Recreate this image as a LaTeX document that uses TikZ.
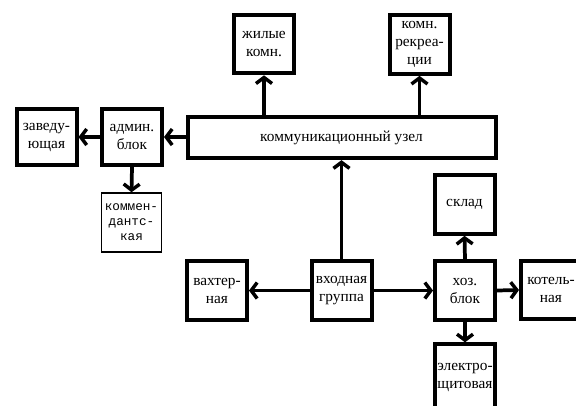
\documentclass[tikz,border=0pt]{standalone}
\usepackage{fontspec}
\setmainfont{Liberation Serif}
\newfontfamily\monofont{Liberation Mono}
\usetikzlibrary{arrows.meta}
\begin{document}
\begin{tikzpicture}[x=0.75pt,y=-0.75pt,
  blok/.style={draw, line width=3pt, fill=white, minimum width=45pt, minimum height=44pt,
    inner sep=0pt, align=center, font=\fontsize{11.5}{13.5}\selectfont},
  strelka/.style={line width=2.8pt, -{Straight Barb[length=4.5pt,width=12pt,line width=2.6pt]}}]
  \fill[white] (0,0) rectangle (576,405);
  \useasboundingbox (0,0) rectangle (576,405);
  \begin{scope}
    \clip (0,0) rectangle (576,405);
    \node[blok, minimum width=231pt, minimum height=31pt] (uzel) at (341.5,137.5) {коммуникационный узел};
    \node[blok] (zhil) at (264,44) {жилые\\комн.};
    \node[blok] (rekr) at (419.5,44.5) {комн.\\рекреа-\\ции};
    \node[blok, minimum height=42pt] (admin) at (132,137) {админ.\\блок};
    \node[blok, minimum height=42pt] (zav) at (46.5,137) {заведу-\\ющая};
    \node[blok, line width=1.4pt, font=\monofont\fontsize{9.5}{11.3}\selectfont] (komend) at (131.5,222.5) {коммен-\\дантс-\\кая};
    \node[blok] (vkhod) at (341.5,290.5) {входная\\группа};
    \node[blok] (vakht) at (217,290.5) {вахтер-\\ная};
    \node[blok] (hoz) at (465,290.5) {хоз.\\блок};
    \node[blok] (sklad) at (464.5,204.5) {склад};
    \node[blok] (kotel) at (551,290) {котель-\\ная};
    \node[blok, minimum height=49pt] (elektro) at (465,377) {электро-\\щитовая};
    \draw[strelka] (zhil |- uzel.north) -- (zhil.south);
    \draw[strelka] (rekr |- uzel.north) -- (rekr.south);
    \draw[strelka] (uzel.west |- admin) -- (admin.east);
    \draw[strelka] (admin.west) -- (zav.east);
    \draw[strelka] (admin.south) -- (komend.north);
    \draw[strelka] (vkhod.north) -- (vkhod |- uzel.south);
    \draw[strelka] (vkhod.west) -- (vakht.east);
    \draw[strelka] (vkhod.east) -- (hoz.west);
    \draw[strelka] (hoz.north) -- (sklad.south);
    \draw[strelka] (hoz.east) -- (kotel.west);
    \draw[strelka] (hoz.south) -- (elektro.north);
  \end{scope}
\end{tikzpicture}
\end{document}
